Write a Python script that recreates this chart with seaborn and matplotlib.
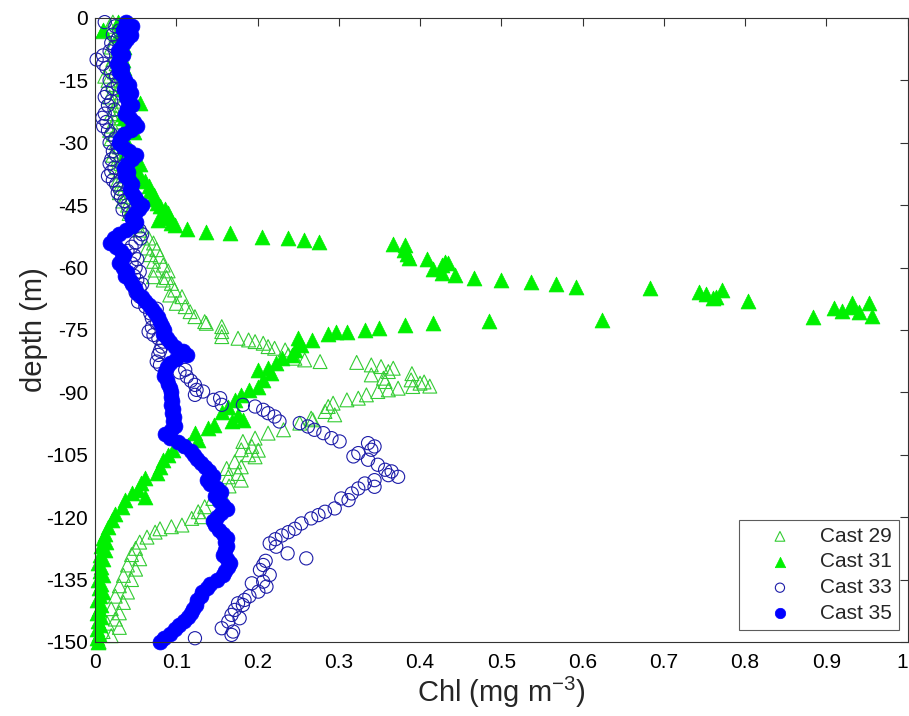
import matplotlib
matplotlib.use("Agg")
import matplotlib.pyplot as plt
import seaborn as sns

# ---- Cast 29 (open green triangles) ----
depth29 = [-1, -2, -3.3, -4, -5, -6, -7, -8, -9, -10, -11, -12, -13, -14, -15, -16, -17, -18, -19, -20,
           -21, -22, -23, -24, -25, -26, -27, -28, -29, -30, -31, -32, -33, -34, -35, -36, -37, -38, -39, -40,
           -41, -42, -43, -44, -45, -46, -47, -48, -49, -50,
           -51, -52.9, -54.1, -55.3, -55.7, -56.9, -57.3, -58.5, -59.4, -60.6, -60.8, -62.2, -62.4, -63.0, -63.8,
           -65.4, -66.6, -67.0, -68.6, -69.4, -70.6, -71.8, -73.0, -73.4, -74.2, -75.4, -76.6, -77.0, -77.4, -77.8,
           -78.2, -79.0, -79.4, -79.8, -81.0, -81.8, -82.2, -82.6, -82.8, -83.4, -83.8, -84.2, -85.0, -85.5, -85.8,
           -86.6, -87.0, -87.4, -87.5, -87.8, -88.5, -88.6, -89.0, -89.4, -89.8, -90.6, -91.4, -91.8, -92.6, -93.4,
           -94.6, -95.4, -96.2, -96.6, -97.4, -99.0, -99.8, -101.0, -101.8, -103.0, -103.8, -103.9, -105.0, -105.5,
           -106.7, -107.9, -108.3, -109.5, -110.3, -111.1, -112.5, -114.0, -115.5, -117.5, -118.7, -119.9, -120.3,
           -121.9, -122.3, -122.8, -123.6, -124.8, -126, -127.5, -129, -130, -131.5, -132.5, -134, -135, -136.5,
           -138, -139, -140.5, -142, -143, -144.5, -145.5, -146.5, -147.5, -148.5, -150]
chl29 = [0.022, 0.018, 0.010, 0.026, 0.030, 0.024, 0.020, 0.028, 0.032, 0.022, 0.026, 0.018, 0.024, 0.012, 0.016,
         0.022, 0.030, 0.026, 0.018, 0.028, 0.032, 0.024, 0.020, 0.026, 0.030, 0.022, 0.018, 0.024, 0.020, 0.026,
         0.030, 0.024, 0.022, 0.028, 0.032, 0.026, 0.030, 0.034, 0.028, 0.032, 0.036, 0.030, 0.038, 0.034, 0.040,
         0.044, 0.042, 0.048, 0.052, 0.050,
         0.055, 0.066, 0.072, 0.064, 0.076, 0.068, 0.080, 0.072, 0.084, 0.074, 0.090, 0.072, 0.088, 0.084, 0.094,
         0.098, 0.092, 0.107, 0.100, 0.111, 0.117, 0.123, 0.135, 0.137, 0.156, 0.156, 0.156, 0.176, 0.189, 0.197,
         0.207, 0.213, 0.221, 0.234, 0.238, 0.246, 0.258, 0.277, 0.322, 0.340, 0.352, 0.367, 0.361, 0.390, 0.340,
         0.355, 0.389, 0.357, 0.405, 0.400, 0.412, 0.391, 0.373, 0.361, 0.348, 0.334, 0.324, 0.310, 0.293, 0.287,
         0.283, 0.295, 0.266, 0.268, 0.252, 0.232, 0.213, 0.197, 0.182, 0.193, 0.180, 0.201, 0.189, 0.197,
         0.172, 0.180, 0.162, 0.176, 0.164, 0.180, 0.165, 0.155, 0.145, 0.135, 0.127, 0.131, 0.119,
         0.107, 0.094, 0.080, 0.074, 0.064, 0.055, 0.050, 0.045, 0.055, 0.040, 0.050, 0.035, 0.045, 0.030,
         0.040, 0.025, 0.035, 0.020, 0.030, 0.025, 0.015, 0.030, 0.010, 0.020, 0.005]

# ---- Cast 31 (filled green triangles) ----
depth31 = [-1, -2, -3, -4, -5, -6, -7, -8, -9, -10, -11, -12, -13, -14, -15, -16, -17, -18, -19, -20.5,
           -22, -23, -24, -25, -26, -27.3, -28.5, -29.5, -30.5, -31.5, -32.5, -33.5, -35, -36, -37, -38, -39.3,
           -40.5, -41.5, -42.5, -43.5, -44.5, -45.3, -46, -46.8, -47.5, -48.2, -48.6, -49.2, -49.8,
           -50.8, -51.4, -51.8, -52.6, -53.0, -53.4, -53.8, -54.3, -54.6, -55.8, -56.7, -57.7, -58.0, -58.6,
           -59.0, -59.4, -60.4, -61.3, -61.8, -62.4, -63.0, -63.4, -63.9, -64.6, -65.0, -65.9, -66.4, -67.4,
           -67.1, -65.4, -68.0, -68.6, -68.6, -69.4, -69.8, -70.4, -70.8, -71.6, -71.8, -72.6, -72.8, -73.4,
           -73.8, -74.6, -75.0, -75.4, -75.6, -76.0, -77.0, -77.4, -78.6, -79.8, -81.0, -81.8, -83.0, -84.2,
           -84.6, -85.4, -87.0, -88.6, -89.4, -90.6, -91.8, -93.4, -94.6, -95.4, -96.6, -96.8, -97.8, -98.6,
           -99.8, -101.4, -102.6, -103.8, -105, -106.2, -107.9, -109.5, -110.7, -111.9, -113.5, -114.3, -115.1,
           -115.9, -117.5, -119.2, -120.7, -122.3, -124, -125, -126, -127, -128, -129, -130, -131, -132, -133,
           -134, -135, -136, -137, -138, -139, -140, -141, -142, -143, -144, -145, -146, -147, -148, -149, -150]
chl31 = [0.028, 0.032, 0.010, 0.030, 0.034, 0.030, 0.036, 0.032, 0.028, 0.034, 0.030, 0.036, 0.032, 0.034, 0.038,
         0.034, 0.036, 0.040, 0.044, 0.055, 0.038, 0.034, 0.036, 0.040, 0.038, 0.048, 0.036, 0.032, 0.036, 0.040,
         0.038, 0.042, 0.055, 0.048, 0.050, 0.056, 0.062, 0.066, 0.068, 0.072, 0.074, 0.076, 0.080, 0.086, 0.090,
         0.084, 0.092, 0.078, 0.094, 0.099,
         0.113, 0.137, 0.166, 0.206, 0.237, 0.257, 0.276, 0.367, 0.381, 0.380, 0.384, 0.386, 0.408, 0.431,
         0.434, 0.427, 0.416, 0.427, 0.443, 0.466, 0.499, 0.536, 0.567, 0.592, 0.683, 0.743, 0.752, 0.760,
         0.764, 0.771, 0.804, 0.932, 0.953, 0.930, 0.910, 0.919, 0.940, 0.956, 0.884, 0.624, 0.485, 0.416,
         0.381, 0.350, 0.332, 0.310, 0.297, 0.287, 0.250, 0.267, 0.254, 0.246, 0.242, 0.230, 0.223, 0.213,
         0.201, 0.217, 0.207, 0.201, 0.189, 0.180, 0.172, 0.164, 0.156, 0.176, 0.182, 0.168, 0.146, 0.139,
         0.123, 0.127, 0.115, 0.096, 0.090, 0.084, 0.080, 0.076, 0.062, 0.057, 0.053, 0.045, 0.062,
         0.037, 0.033, 0.025, 0.021, 0.016, 0.012, 0.010, 0.014, 0.008, 0.012, 0.006, 0.010, 0.004, 0.008, 0.006,
         0.010, 0.004, 0.008, 0.005, 0.010, 0.006, 0.003, 0.008, 0.005, 0.003, 0.007, 0.004, 0.006, 0.003, 0.005,
         0.002, 0.004]

# ---- Cast 33 (open blue circles) ----
depth33 = [-1, -2, -3, -4, -5, -6, -7, -8, -9, -10, -11, -12, -13, -14, -15, -16, -17, -18, -19, -20,
           -21, -22, -23, -24, -25, -26, -27, -28, -29, -30, -31, -32, -33, -34, -35, -36, -37, -38, -39, -40,
           -41, -42, -43, -44, -45, -46, -47, -48, -49, -50, -51, -52, -53, -54, -55, -56, -57, -58, -59, -60,
           -61, -62, -63, -64, -65, -66, -67,
           -68.2, -69.4, -69.9, -71, -72.2, -73.4, -74.4, -75.4, -76.2, -77, -77.8, -79, -80, -81, -82.6, -83.4,
           -84.6, -85.2, -86.2, -87.2, -88.2, -89.4, -89.8, -90.6, -91.4, -91.8, -93.0, -93.0, -93.4, -94.2,
           -95.0, -95.8, -97.0, -97.4, -98.2, -99.0, -99.8, -101.0, -101.8, -102.2, -103.0, -103.8, -104.6,
           -105.4, -106.2, -107.4, -108.6, -109.0, -109.9, -110.3, -111.1, -111.9, -112.7, -113.1, -114.3,
           -115.5, -115.9, -117.9, -118.7, -119.5, -120.3, -121.5, -122.8, -123.6, -124.4, -125.3, -126.3,
           -127.1, -128.7, -129.9, -130.5, -131.5, -132.7, -133.9, -135.5, -135.9, -136.7, -137.9, -139,
           -139.9, -140.7, -141.1, -142.3, -143.5, -144.3, -145.1, -146.7, -147.5, -148.3, -149.1]
chl33 = [0.012, 0.025, 0.030, 0.022, 0.028, 0.020, 0.024, 0.018, 0.010, 0.002, 0.010, 0.014, 0.020, 0.026, 0.018,
         0.028, 0.022, 0.015, 0.012, 0.020, 0.016, 0.024, 0.012, 0.009, 0.014, 0.010, 0.016, 0.020, 0.025, 0.018,
         0.028, 0.022, 0.026, 0.020, 0.018, 0.024, 0.020, 0.016, 0.022, 0.026, 0.030, 0.028, 0.032, 0.036, 0.040,
         0.034, 0.042, 0.045, 0.050, 0.048, 0.055, 0.058, 0.056, 0.050, 0.045, 0.040, 0.048, 0.052, 0.045, 0.050,
         0.055, 0.048, 0.052, 0.058, 0.055, 0.050, 0.055,
         0.053, 0.062, 0.076, 0.068, 0.070, 0.076, 0.070, 0.066, 0.072, 0.078, 0.084, 0.082, 0.080, 0.078, 0.076,
         0.080, 0.111, 0.104, 0.113, 0.118, 0.123, 0.125, 0.133, 0.123, 0.154, 0.146, 0.156, 0.182, 0.197, 0.207,
         0.213, 0.221, 0.227, 0.252, 0.262, 0.270, 0.281, 0.291, 0.301, 0.336, 0.344, 0.340, 0.324,
         0.318, 0.336, 0.348, 0.357, 0.365, 0.361, 0.373, 0.344, 0.332, 0.344, 0.324, 0.316,
         0.303, 0.312, 0.295, 0.283, 0.275, 0.266, 0.254, 0.246, 0.238, 0.230, 0.222, 0.215,
         0.223, 0.237, 0.260, 0.210, 0.207, 0.203, 0.215, 0.207, 0.193, 0.211, 0.201, 0.190,
         0.184, 0.176, 0.182, 0.172, 0.168, 0.178, 0.164, 0.156, 0.170, 0.168, 0.123]

# ---- Cast 35 (filled blue circles), 1 m bins ----
depth35 = [-1, -2, -3, -4, -5, -6, -7, -8, -9, -10, -11, -12, -13, -14, -15, -16, -17, -18, -19, -20,
           -21, -22, -23, -24, -25, -26, -27, -28, -29, -30, -31, -32, -33, -34, -35, -36, -37, -38, -39, -40,
           -41, -42, -43, -44, -45, -46, -47, -48, -49, -50, -51, -52, -53, -54, -55, -56, -57, -58, -59, -60,
           -61, -62, -63, -64, -65, -66, -67, -68, -69, -70, -71, -72, -73, -74, -75, -76, -77, -78, -79, -80,
           -81, -82, -83, -84, -85, -86, -87, -88, -89, -90, -91, -92, -93, -94, -95, -96, -97, -98, -99, -100,
           -101, -102, -103, -104, -105, -106, -107, -108, -109, -110, -111, -112, -113, -114, -115, -116, -117,
           -118, -119, -120, -121, -122, -123, -124, -125, -126, -127, -128, -129, -130, -131, -132, -133, -134,
           -135, -136, -137, -138, -139, -140, -141, -142, -143, -144, -145, -146, -147, -148, -149, -150]
chl35 = [0.038, 0.046, 0.034, 0.044, 0.040, 0.036,
         0.032, 0.028, 0.034, 0.029, 0.027, 0.033, 0.030, 0.034,
         0.037, 0.042, 0.036, 0.044, 0.038, 0.041, 0.045, 0.040, 0.037, 0.043, 0.048, 0.052,
         0.044, 0.036, 0.031, 0.029, 0.034, 0.042, 0.050,
         0.046, 0.040, 0.036, 0.041, 0.037, 0.042, 0.045,
         0.043, 0.046, 0.049, 0.052, 0.058, 0.054, 0.049, 0.046,
         0.050, 0.045, 0.038, 0.030, 0.023, 0.019,
         0.026, 0.032, 0.036, 0.033, 0.029,
         0.034, 0.040, 0.037, 0.043, 0.046, 0.049,
         0.052, 0.058, 0.062, 0.066, 0.070, 0.074, 0.078, 0.080, 0.082, 0.085,
         0.084, 0.088, 0.092, 0.098, 0.108, 0.113, 0.100,
         0.092, 0.088, 0.086, 0.085, 0.088, 0.090,
         0.092, 0.094, 0.093, 0.095, 0.094, 0.096, 0.095, 0.097, 0.096, 0.098, 0.094,
         0.086, 0.092, 0.102, 0.110, 0.118,
         0.122, 0.126, 0.130, 0.135,
         0.140, 0.145, 0.138, 0.142, 0.150, 0.155, 0.148, 0.152,
         0.158, 0.162, 0.155, 0.150, 0.145, 0.148, 0.152, 0.158, 0.162, 0.160,
         0.163, 0.160, 0.157, 0.162, 0.166, 0.164, 0.160, 0.158, 0.150,
         0.142, 0.138, 0.132, 0.130, 0.126,
         0.124, 0.121, 0.118, 0.115, 0.110,
         0.103, 0.098, 0.092, 0.085, 0.080]

x_ticks = [0, 0.1, 0.2, 0.3, 0.4, 0.5, 0.6, 0.7, 0.8, 0.9, 1]
x_tick_labels = ["0", "0.1", "0.2", "0.3", "0.4", "0.5", "0.6", "0.7", "0.8", "0.9", "1"]
y_ticks = [0, -15, -30, -45, -60, -75, -90, -105, -120, -135, -150]
y_tick_labels = ["0", "-15", "-30", "-45", "-60", "-75", "-90", "-105", "-120", "-135", "-150"]

sns.set_style("white")
plt.rcParams["font.family"] = ["Liberation Sans", "DejaVu Sans"]
plt.rcParams["mathtext.fontset"] = "custom"
plt.rcParams["mathtext.rm"] = "Liberation Sans"
plt.rcParams["mathtext.it"] = "Liberation Sans"

GREEN = "#00f000"
GREEN_OPEN = "#33cc33"
BLUE = "#0000ff"
BLUE_OPEN = "#1c1ca8"

fig = plt.figure(figsize=(9.09, 7.16), dpi=100)
ax = fig.add_axes([0.1045, 0.1034, 0.894, 0.8715])

common = dict(ax=ax, clip_on=False)
sns.scatterplot(x=chl29, y=depth29, marker="^", s=100, color=GREEN_OPEN,
                facecolors="none", edgecolor=GREEN_OPEN, linewidth=0.8, label="Cast 29", **common)
sns.scatterplot(x=chl31, y=depth31, marker="^", s=115, color=GREEN,
                edgecolor=GREEN, linewidth=0.5, label="Cast 31", **common)
sns.scatterplot(x=chl33, y=depth33, marker="o", s=90, color=BLUE_OPEN,
                facecolors="none", edgecolor=BLUE_OPEN, linewidth=0.8, label="Cast 33", **common)
sns.scatterplot(x=chl35, y=depth35, marker="o", s=115, color=BLUE,
                edgecolor=BLUE, linewidth=0.5, label="Cast 35", **common)

ax.set_xlim(0, 1)
ax.set_ylim(-150, 0)
ax.set_xticks(x_ticks)
ax.set_xticklabels(x_tick_labels)
ax.set_yticks(y_ticks)
ax.set_yticklabels(y_tick_labels)
ax.tick_params(direction="in", length=6, width=0.8, top=True, right=True,
               labelsize=15, pad=5, colors="#333333", labelcolor="black")
ax.tick_params(axis="x", pad=8)
ax.get_xticklabels()[-1].set_horizontalalignment("right")
for sp in ax.spines.values():
    sp.set_visible(True)
    sp.set_color("#333333")
    sp.set_linewidth(0.8)

ax.set_xlabel("Chl (mg m$^{-3}$)", fontsize=21, labelpad=2)
ax.set_ylabel("depth (m)", fontsize=21, labelpad=-1)

leg = ax.legend(loc="lower right", bbox_to_anchor=(0.989, 0.019), borderaxespad=0,
                fontsize=15, frameon=True, fancybox=False, edgecolor="#333333",
                markerscale=0.7, handletextpad=0.3, borderpad=0.35, labelspacing=0.32,
                handlelength=3.2)
leg.get_frame().set_linewidth(0.8)

fig.savefig("out.png", dpi=100)
